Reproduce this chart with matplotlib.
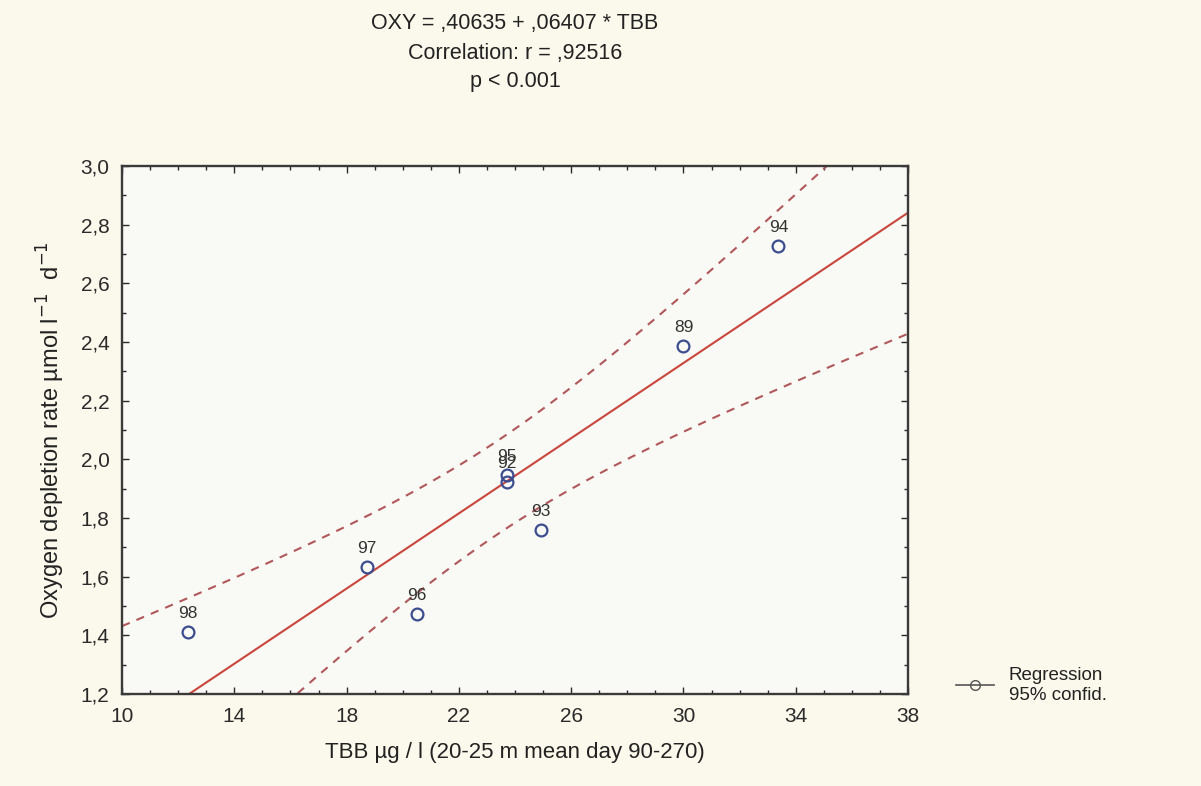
import numpy as np
import matplotlib.pyplot as plt
from matplotlib.ticker import MultipleLocator, FuncFormatter
from matplotlib.lines import Line2D

plt.rcParams['font.family'] = ['Liberation Sans', 'DejaVu Sans']

# Daten
jahre = ['98', '97', '96', '95', '92', '93', '89', '94']
tbb = [12.35, 18.72, 20.5, 23.7, 23.7, 24.93, 30.0, 33.38]
oxy = [1.41, 1.634, 1.472, 1.945, 1.922, 1.76, 2.385, 2.727]

# Regressionskoeffizienten laut Titel
a0 = 0.40635
a1 = 0.06407
t_crit = 2.4469  # t(0.975, df=6)

x_ticks = [10, 14, 18, 22, 26, 30, 34, 38]

titel_zeilen = ['OXY = ,40635 + ,06407 * TBB', 'Correlation: r = ,92516', 'p < 0.001']


def komma(v, pos):
    return f'{v:.1f}'.replace('.', ',')


def main():
    fig = plt.figure(figsize=(12.01, 7.86), dpi=100, facecolor='#fbf9ec')
    ax = fig.add_axes([0.1016, 0.117, 0.6545, 0.6718])
    ax.set_facecolor('#f9f9f5')

    H = 786.0
    x = np.array(tbb)
    y = np.array(oxy)
    n = len(x)

    # Regressionsgerade und 95%-Konfidenzband
    xg = np.linspace(10, 38, 300)
    yg = a0 + a1 * xg
    resid = y - (a0 + a1 * x)
    s = np.sqrt(np.sum(resid ** 2) / (n - 2))
    sxx = np.sum((x - x.mean()) ** 2)
    half = t_crit * s * np.sqrt(1 / n + (xg - x.mean()) ** 2 / sxx)

    ax.plot(xg, yg, color='#c9463d', lw=1.5, zorder=2)
    ax.plot(xg, yg + half, color='#b0585a', lw=1.5, ls=(0, (4, 3.5)), zorder=2)
    ax.plot(xg, yg - half, color='#b0585a', lw=1.5, ls=(0, (4, 3.5)), zorder=2)

    ax.plot(x, y, 'o', mfc='none', mec='#3b4d8f', ms=8.5, mew=1.6, zorder=3)
    for lab, xi, yi in zip(jahre, x, y):
        ax.annotate(lab, (xi, yi), xytext=(0, 8), textcoords='offset points',
                    ha='center', va='bottom', fontsize=12.5, color='#333333')

    ax.set_xlim(10, 38)
    ax.set_ylim(1.2, 3.0)
    ax.set_xticks(x_ticks)
    ax.xaxis.set_minor_locator(MultipleLocator(1))
    ax.yaxis.set_major_locator(MultipleLocator(0.2))
    ax.yaxis.set_minor_locator(MultipleLocator(0.1))
    ax.yaxis.set_major_formatter(FuncFormatter(komma))
    ax.tick_params(which='both', direction='in', top=True, right=True,
                   labelsize=15, colors='#2a2a2a', width=1.0)
    ax.tick_params(which='major', length=5)
    ax.tick_params(axis='y', which='major', pad=9)
    ax.tick_params(axis='x', which='major', pad=9)
    ax.tick_params(which='minor', length=3)
    for sp in ax.spines.values():
        sp.set_color('#3a3a3a')
        sp.set_linewidth(1.7)

    ax.set_xlabel('TBB µg / l (20-25 m mean day 90-270)', fontsize=16,
                  color='#222222', labelpad=12)
    ax.set_ylabel('Oxygen depletion rate µmol l$^{-1}$  d$^{-1}$', fontsize=17,
                  color='#222222', labelpad=10)

    for i, zeile in enumerate(titel_zeilen):
        fig.text(0.4288, 1 - (24 + 29 * i) / H, zeile, ha='center', va='center',
                 fontsize=15.5, color='#222222')

    handle = Line2D([0], [0], color='#555555', lw=1.2, marker='o', mfc='none',
                    mec='#555555', ms=7, markevery=[1])
    handle.set_data([0, 1], [0, 0])
    leg = ax.legend([handle], ['Regression\n95% confid.'], loc='lower left',
                    bbox_to_anchor=(1.04, -0.05), frameon=False, fontsize=13.5,
                    handlelength=2.0, labelspacing=0.2)
    for t in leg.get_texts():
        t.set_color('#222222')

    fig.savefig('out.png', dpi=100, facecolor=fig.get_facecolor())


if __name__ == '__main__':
    main()
